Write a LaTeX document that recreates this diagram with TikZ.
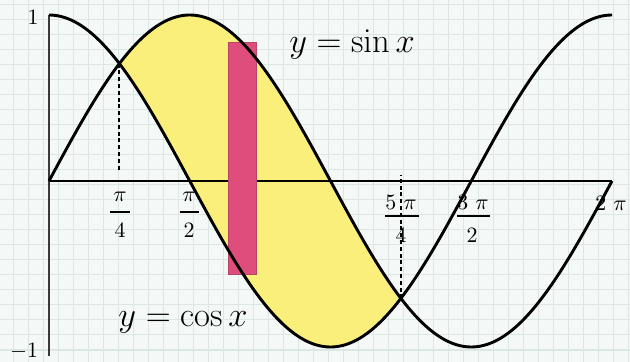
\documentclass[tikz,border=0pt]{standalone}
\usepackage{amsmath}
\definecolor{bgc}{HTML}{F4F8F7}
\definecolor{gridc}{HTML}{DCE6E3}
\definecolor{fillc}{HTML}{FBEF7C}
\definecolor{rectc}{HTML}{DE4D7C}
\definecolor{rectedge}{HTML}{B84468}
\definecolor{axisc}{HTML}{3A3A3A}
\tikzset{
  gridline/.style={gridc, line width=0.5pt},
  curve/.style={black, line width=1.45pt, line join=round},
  xaxis/.style={black, line width=0.7pt},
  yaxis/.style={axisc, line width=1pt},
  guide/.style={black, line width=0.9pt, dash pattern=on 2pt off 1.4pt},
  lab/.style={inner sep=0pt, font=\fontsize{11}{12}\selectfont},
  eqlab/.style={inner sep=0pt, anchor=base, font=\fontsize{17}{20}\selectfont},
  fracbar/.style={black, line width=0.55pt},
  band/.style={fill=rectc, draw=rectedge, line width=0.4pt}
}
\begin{document}
\begin{tikzpicture}[x=0.5pt,y=-0.5pt]
\useasboundingbox (0,0) rectangle (630,362);
\fill[bgc] (0,0) rectangle (630,362);
\foreach \gx in {13,28,...,628} \draw[gridline] (\gx,0) -- (\gx,362);
\foreach \gy in {5,20,...,360} \draw[gridline] (0,\gy) -- (630,\gy);
% shaded region between sin and cos from pi/4 to 5pi/4
\fill[fillc] plot[domain=119.375:400.875, samples=120, smooth] (\x,{181-166*sin((\x-49)/563*360)})
  -- plot[domain=400.875:119.375, samples=120, smooth] (\x,{181-166*cos((\x-49)/563*360)}) -- cycle;
% axes
\coordinate (O) at (49,181);
\coordinate (xend) at (612,181);
\coordinate (ytop) at (49,15);
\coordinate (ybot) at (49,356);
\draw[xaxis] (O) -- (xend);
\draw[yaxis] (ytop) -- (ybot);
% labels
\node[lab] (one) at (33,17) {$1$};
\node[lab] (mone) at (24,351) {$-1$};
\node[lab] (n1) at (120,197) {$\pi$};
\node[lab] (d1) at (120,230) {$4$};
\draw[fracbar] (110,212) -- (130,212);
\node[lab] (n2) at (189,197) {$\pi$};
\node[lab] (d2) at (189,230) {$2$};
\draw[fracbar] (180,212) -- (199,212);
\node[lab] (n3) at (401,202) {$5\ \pi$};
\node[lab] (d3) at (401,235) {$4$};
\draw[fracbar] (385,216) -- (419,216);
\node[lab] (n4) at (473,202) {$3\ \pi$};
\node[lab] (d4) at (472,235) {$2$};
\draw[fracbar] (457,216) -- (490,216);
\node[lab] (tp) at (611,203) {$2\ \pi$};
\node[eqlab] (sinlab) at (352,53) {$y=\sin x$};
\node[eqlab] (coslab) at (183,327) {$y=\cos x$};
% guide lines
\coordinate (p1) at (119.375,63.6);
\coordinate (p1a) at (119.375,172);
\coordinate (p2) at (400.875,298.4);
\coordinate (p2a) at (400.875,175);
\draw[guide] (p1) -- (p1a);
\draw[guide] (p2) -- (p2a);
% strip
\draw[band] (228,42) rectangle (256,274);
% curves
\draw[curve] plot[domain=49:612, samples=200, smooth] (\x,{181-166*sin((\x-49)/563*360)});
\draw[curve] plot[domain=49:612, samples=200, smooth] (\x,{181-166*cos((\x-49)/563*360)});
\end{tikzpicture}
\end{document}
